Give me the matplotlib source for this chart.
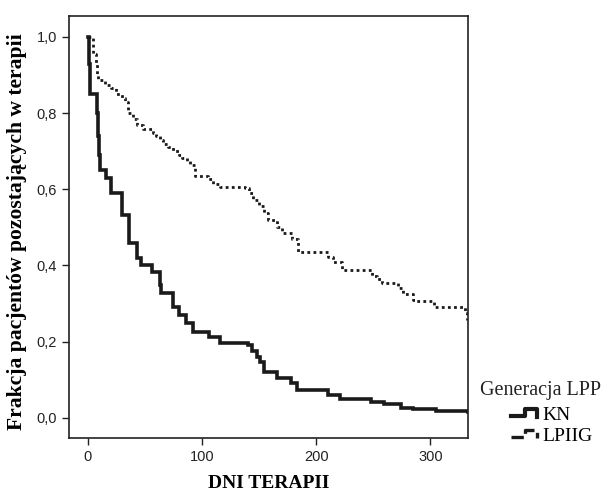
import matplotlib
matplotlib.use("Agg")
import matplotlib.pyplot as plt
from matplotlib.lines import Line2D
from matplotlib.legend_handler import HandlerBase
from matplotlib.ticker import FuncFormatter

# Kaplan-Meier steps: (day, fraction after the event)
kn_days = [0, 1, 2, 8, 9, 10, 11, 16, 20, 30, 36, 43, 47, 56, 63, 64, 75, 80, 86, 92,
           106, 116, 140, 144, 148, 151, 154, 166, 178, 183, 210, 221, 248, 259, 274,
           285, 305, 333]
kn_frac = [1.0, 0.93, 0.85, 0.80, 0.74, 0.69, 0.65, 0.63, 0.59, 0.533, 0.46, 0.42,
           0.40, 0.384, 0.35, 0.328, 0.292, 0.27, 0.25, 0.226, 0.213, 0.197, 0.19,
           0.175, 0.16, 0.147, 0.121, 0.104, 0.091, 0.073, 0.06, 0.049, 0.042, 0.036,
           0.027, 0.023, 0.018, 0.015]

lp_days = [0, 5, 7, 8, 9, 15, 20, 25, 30, 33, 35, 40, 43, 48, 57, 60, 63, 66, 70, 75,
           80, 83, 87, 90, 94, 105, 110, 116, 138, 141, 145, 150, 154, 158, 166, 170,
           179, 184, 210, 215, 223, 249, 253, 258, 272, 276, 285, 287, 303, 330, 332]
lp_frac = [1.0, 0.955, 0.93, 0.90, 0.888, 0.875, 0.867, 0.85, 0.84, 0.828, 0.80,
           0.785, 0.77, 0.757, 0.749, 0.74, 0.73, 0.72, 0.71, 0.70, 0.69, 0.683, 0.675,
           0.665, 0.634, 0.626, 0.615, 0.607, 0.604, 0.59, 0.573, 0.555, 0.538, 0.52,
           0.50, 0.486, 0.47, 0.436, 0.423, 0.41, 0.388, 0.373, 0.365, 0.354, 0.341,
           0.325, 0.31, 0.307, 0.29, 0.275, 0.257]

group_labels = ["KN", "LPIIG"]
x_ticks = [0, 100, 200, 300]
y_ticks = [0.0, 0.2, 0.4, 0.6, 0.8, 1.0]

serif = "Liberation Serif"
sans = "Liberation Sans"


class StepHandler(HandlerBase):
    # small step glyph like the SPSS legend
    def create_artists(self, legend, orig_handle, xdescent, ydescent, width, height,
                       fontsize, trans):
        x0 = -xdescent
        y0 = -ydescent
        xs = [x0, x0 + 0.55 * width, x0 + 0.55 * width, x0 + width, x0 + width]
        ys = [y0 + 0.3 * height, y0 + 0.3 * height, y0 + 0.8 * height,
              y0 + 0.8 * height, y0 + 0.2 * height]
        ln = Line2D(xs, ys, color=orig_handle.get_color(),
                    linestyle=orig_handle.get_linestyle(),
                    linewidth=orig_handle.get_linewidth() + 0.4)
        ln.set_transform(trans)
        return [ln]


fig = plt.figure(figsize=(6.05, 4.94), dpi=100)
ax = fig.add_axes([0.114, 0.1134, 0.6596, 0.8542])

l1, = ax.step(kn_days, kn_frac, where="post", color="#1a1a1a", linewidth=2.6,
              solid_joinstyle="miter")
l2, = ax.step(lp_days, lp_frac, where="post", color="#1a1a1a", linewidth=2.0,
              linestyle=(0, (1, 1.2)))

ax.set_xlim(-16.4, 333)
ax.set_ylim(-0.053, 1.055)
ax.set_xticks(x_ticks)
ax.set_yticks(y_ticks)
ax.yaxis.set_major_formatter(FuncFormatter(lambda v, p: f"{v:.1f}".replace(".", ",")))
ax.tick_params(direction="out", length=5, width=1, labelsize=10.5, colors="#222222")
for lab in ax.get_xticklabels() + ax.get_yticklabels():
    lab.set_fontfamily(sans)
for sp in ax.spines.values():
    sp.set_linewidth(1.2)
    sp.set_color("#222222")

ax.set_xlabel("DNI TERAPII", fontfamily=serif, fontweight="bold", fontsize=14,
              labelpad=8)
ax.set_ylabel("Frakcja pacjentów pozostających w terapii", fontfamily=serif,
              fontweight="bold", fontsize=15.6)
ax.yaxis.set_label_coords(-0.105, 0.49)

fig.text(0.793, 0.21, "Generacja LPP", fontfamily=serif, fontsize=14.5,
         color="#222222", va="center", ha="left")
leg = fig.legend([l1, l2], group_labels, handler_map={Line2D: StepHandler()},
                 loc="upper left", bbox_to_anchor=(0.845, 0.177), frameon=False,
                 prop={"family": serif, "size": 14}, handlelength=1.3,
                 handletextpad=0.3, labelspacing=0.15, borderaxespad=0,
                 borderpad=0)

fig.savefig("out.png", dpi=100)
